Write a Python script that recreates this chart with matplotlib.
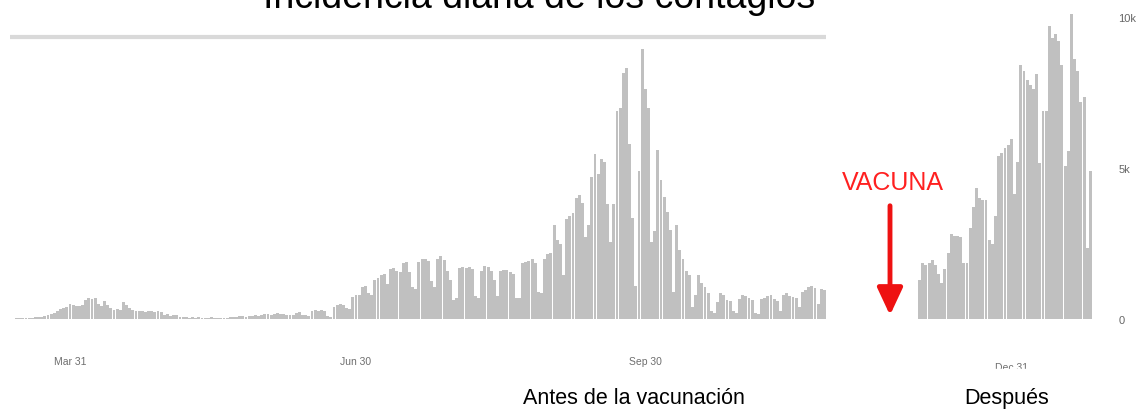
import numpy as np
import matplotlib
matplotlib.use("Agg")
import matplotlib.pyplot as plt
from matplotlib.patches import Rectangle

# daily cases (thousands), before the vaccine, starting 2020-03-14
antes_k = [
    0.02, 0.03, 0.02, 0.03, 0.04, 0.03, 0.05, 0.06,
    0.08, 0.1, 0.13, 0.16, 0.2, 0.25,
    0.32, 0.38, 0.4,
    0.5, 0.48,
    0.44, 0.42, 0.46,
    0.62, 0.7, 0.66, 0.68,
    0.5, 0.44,
    0.58,
    0.45, 0.35, 0.3, 0.32, 0.3,
    0.55, 0.45,
    0.35, 0.3,
    0.27, 0.25, 0.26, 0.24, 0.26, 0.25, 0.24, 0.27, 0.22,
    0.12, 0.15, 0.1, 0.14, 0.12, 0.08,
    0.06, 0.05, 0.04, 0.05, 0.03, 0.05, 0.04, 0.03, 0.04, 0.05, 0.03, 0.04, 0.02, 0.04, 0.03,
    0.06, 0.08, 0.07, 0.09, 0.1, 0.08, 0.11, 0.09, 0.12, 0.1, 0.13,
    0.15, 0.18, 0.14, 0.17, 0.2, 0.16, 0.15,
    0.14, 0.12, 0.13,
    0.2, 0.22,
    0.14, 0.12, 0.1,
    0.26, 0.3, 0.28, 0.3, 0.26,
    0.1, 0.08,
    0.4, 0.48, 0.5, 0.46,
    0.38, 0.34,
    0.72, 0.8, 0.78,
    1.05, 1.1,
    0.85, 0.78,
    1.3, 1.35,
    1.45, 1.5,
    1.17,
    1.65, 1.7,
    1.6, 1.55,
    1.85, 1.9,
    1.55,
    1.05, 0.98,
    1.9, 2.0, 1.98, 1.92,
    1.25, 1.05,
    2.0, 2.08, 1.95,
    1.6, 1.3,
    0.62, 0.7,
    1.7, 1.72, 1.68, 1.72, 1.65,
    0.75, 0.7,
    1.6, 1.75, 1.72, 1.6,
    1.3, 0.75,
    1.6, 1.62, 1.62, 1.55, 1.5,
    0.68, 0.7,
    1.85, 1.9, 1.92, 2.0, 1.85,
    0.9, 0.85,
    2.0, 2.15, 2.2,
    3.1,
    2.6, 2.5,
    1.45,
    3.3, 3.4, 3.5,
    4.0, 4.1,
    3.85, 2.7, 3.1, 4.7, 5.45, 4.8,
    5.3, 5.2,
    3.8, 2.55, 3.8,
    6.9, 7.0,
    8.15, 8.3, 5.8, 3.35, 1.1, 4.9, 8.95, 7.6, 7.0, 2.55, 2.9,
    5.6, 4.6, 4.05, 3.55, 2.95, 0.9, 3.1,
    2.3, 2.0, 1.6, 1.45, 0.4, 0.8, 1.45, 1.2, 1.05, 0.85,
    0.25, 0.2, 0.55, 0.85, 0.8, 0.62, 0.6, 0.25, 0.2,
    0.65, 0.8, 0.75, 0.68, 0.62, 0.2, 0.15,
    0.65, 0.7, 0.75, 0.8, 0.65, 0.6, 0.28,
    0.8, 0.85, 0.75, 0.72, 0.7, 0.4,
    0.9, 0.95, 1.05, 1.08, 1.02, 0.5, 1.0, 0.95,
]

# daily cases (thousands), after the vaccine, starting 2020-12-02
despues_k = [
    1.3, 1.85, 1.8, 1.85, 1.95, 1.8, 1.5, 1.2, 1.65, 2.2,
    2.8, 2.75, 2.75, 2.7, 1.85, 1.85, 3.0, 3.7, 4.35, 4.0,
    3.95, 3.95, 2.6, 2.5, 3.4, 5.4, 5.5, 5.65, 5.75, 5.95,
    4.15, 5.2, 8.4, 8.2, 7.9, 7.75, 7.6, 8.1, 5.15, 6.9,
    6.9, 9.7, 9.3, 9.45, 9.2, 8.4, 5.05, 5.55, 10.1, 8.6,
    8.2, 7.2, 7.35, 2.35, 4.9,
]

antes_start = "2020-03-14"
despues_start = "2020-12-02"
antes_ticks = ["2020-03-31", "2020-06-30", "2020-09-30"]
despues_ticks = ["2020-12-31"]
y_ticks = [0, 5, 10]
y_labels = ["0", "5k", "10k"]

W, H = 1145, 414
bar_color = "#c0c0c0"
tick_color = "#6e6e6e"
narrow = ["Liberation Sans Narrow", "Liberation Sans"]

fig = plt.figure(figsize=(W / 100, H / 100), dpi=100)


def fx(px):
    return px / W


def fy(px):
    return 1 - px / H


def date_ticks(ax, start, n, ticks, pad):
    days = np.arange(np.datetime64(start), np.datetime64(start) + n)
    pos, labels = [], []
    for t in ticks:
        i = int(np.where(days == np.datetime64(t))[0][0])
        pos.append(i)
        labels.append(days[i].astype(object).strftime("%b %d").replace(" 0", " "))
    ax.set_xticks(pos)
    ax.set_xticklabels(labels, family=narrow, fontsize=7.5, color=tick_color)
    ax.tick_params(axis="x", length=0, pad=pad)


y_top = 10.5
bottom_px, top_px = 320, 320 - 30.2 * y_top

# main panel (before)
ax1 = fig.add_axes([fx(10), fy(bottom_px), fx(816), (bottom_px - top_px) / H])
n1 = len(antes_k)
ax1.bar(np.arange(n1), antes_k, width=0.92, color=bar_color, linewidth=0)
ax1.set_xlim(-0.5 - 5 / 3.156, n1 - 0.5)
ax1.set_ylim(0, y_top)
ax1.axhline(9.34, color="#d9d9d9", lw=3)
date_ticks(ax1, antes_start, n1, antes_ticks, 27)
ax1.set_yticks([])
for s in ax1.spines.values():
    s.set_visible(False)

# right panel (after)
ax2 = fig.add_axes([fx(918), fy(bottom_px), fx(174), (bottom_px - top_px) / H])
n2 = len(despues_k)
ax2.bar(np.arange(n2), despues_k, width=0.92, color=bar_color, linewidth=0)
ax2.set_xlim(-0.5, n2 - 0.5)
ax2.set_ylim(0, y_top)
date_ticks(ax2, despues_start, n2, despues_ticks, 31)
ax2.yaxis.tick_right()
ax2.set_yticks(y_ticks)
ax2.set_yticklabels(y_labels, family=narrow, fontsize=8, color="#666666")
ax2.tick_params(axis="y", length=0, pad=19)
for s in ax2.spines.values():
    s.set_visible(False)

# the "Dec 31" label is cut off in the source picture
fig.patches.append(Rectangle((fx(985), fy(382)), fx(60), 12 / H,
                             transform=fig.transFigure, color="white", zorder=10))

# title, partly off the top edge
fig.text(fx(539), fy(8), "Incidencia diaria de los contagios", ha="center",
         va="baseline", fontsize=27, family="Liberation Sans", color="black")

# vaccine marker
fig.text(fx(893), fy(183), "VACUNA", ha="center", va="center", fontsize=18,
         family="Liberation Sans", color="#ff2020")
fig.add_artist(matplotlib.patches.FancyArrowPatch(
    (fx(890), fy(204)), (fx(890), fy(319)), transform=fig.transFigure,
    arrowstyle="-|>,head_width=0.35,head_length=0.75", mutation_scale=22,
    color="#ee1111", lw=3.5))

fig.text(fx(634), fy(399), "Antes de la vacunación", ha="center", va="center",
         fontsize=15.5, family="Liberation Sans", color="black")
fig.text(fx(1007), fy(399), "Después", ha="center", va="center",
         fontsize=15.5, family="Liberation Sans", color="black")

fig.savefig("out.png", dpi=100)
